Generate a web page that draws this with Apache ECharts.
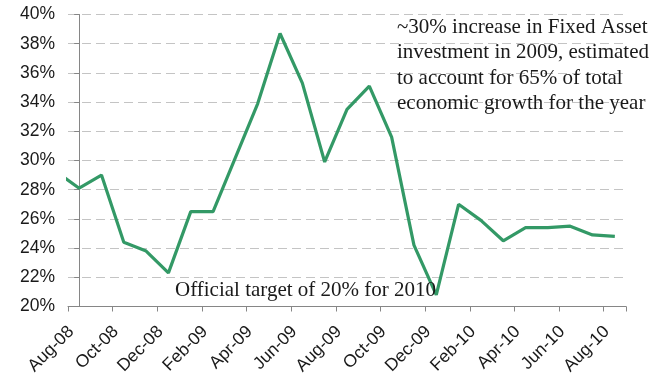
<!DOCTYPE html>
<html>
<head>
<meta charset="utf-8">
<script src="https://cdn.jsdelivr.net/npm/echarts@6/dist/echarts.min.js"></script>
<style>
html,body{margin:0;padding:0;background:#fff;}
#chart{width:658px;height:376px;}
</style>
</head>
<body>
<div id="chart"></div>
<script>
// Months shown on the category axis
var months = ['Aug-08','Sep-08','Oct-08','Nov-08','Dec-08','Jan-09','Feb-09','Mar-09','Apr-09','May-09','Jun-09','Jul-09',
  'Aug-09','Sep-09','Oct-09','Nov-09','Dec-09','Jan-10','Feb-10','Mar-10','Apr-10','May-10','Jun-10','Jul-10','Aug-10'];
// Fixed asset investment growth, % y/y
var growth = [28.1, 29.0, 24.4, 23.8, 22.3, 26.5, 26.5, 30.2, 33.9, 38.7, 35.3, 29.9,
  33.5, 35.1, 31.6, 24.2, 20.8, 27.0, 25.9, 24.5, 25.4, 25.4, 25.5, 24.9, 24.8];
// Previous month (Jul-08), only its lead-in segment is visible at the left edge
var prevMonthValue = 29.2;
var yTicks = [20, 40, 2];
var noteTop = '~30% increase in Fixed Asset\ninvestment in 2009, estimated\nto account for 65% of total\neconomic growth for the year';
var noteBottom = 'Official target of 20% for 2010';

var lineData = [[-1, prevMonthValue]];
for (var i = 0; i < growth.length; i++) lineData.push([i, growth[i]]);

var chart = echarts.init(document.getElementById('chart'), null, {renderer: 'canvas'});
var axisGray = '#868686';
chart.setOption({
  animation: false,
  backgroundColor: '#ffffff',
  grid: {left: 68, right: 32, top: 14.5, bottom: 69.5, containLabel: false, outerBoundsMode: 'none'},
  xAxis: [{
    type: 'category',
    data: months,
    boundaryGap: true,
    axisLine: {lineStyle: {color: axisGray, width: 1}},
    axisTick: {show: true, interval: 1, length: 5, lineStyle: {color: axisGray}},
    axisLabel: {interval: 1, rotate: 45, fontFamily: 'Liberation Sans, Arial', fontSize: 17.5, color: '#1a1a1a',
      margin: 14.5, padding: [0, 11.4, 0, 0]},
    splitLine: {show: false}
  }, {
    type: 'value',
    min: -0.5,
    max: months.length - 0.5,
    show: false,
    splitLine: {show: false}
  }],
  yAxis: {
    type: 'value',
    min: yTicks[0], max: yTicks[1], interval: yTicks[2],
    axisLine: {show: true, lineStyle: {color: axisGray, width: 1}},
    axisTick: {show: true, length: 5, lineStyle: {color: axisGray}},
    axisLabel: {formatter: '{value}%', fontFamily: 'Liberation Sans, Arial', fontSize: 17.5, color: '#1a1a1a', margin: 13},
    splitLine: {show: true, lineStyle: {color: '#c4c4c4', type: [9, 5], width: 1}}
  },
  series: [{
    type: 'line',
    xAxisIndex: 1,
    data: lineData,
    clip: true,
    symbol: 'none',
    lineStyle: {color: '#339966', width: 3.2},
    z: 3
  }],
  graphic: [{
    type: 'text',
    left: 397, top: 14.5,
    style: {text: noteTop, fontFamily: 'Liberation Serif, Times New Roman', fontSize: 21, lineHeight: 25.4, fill: '#1a1a1a'},
    z: 10
  }, {
    type: 'text',
    left: 175, top: 278,
    style: {text: noteBottom, fontFamily: 'Liberation Serif, Times New Roman', fontSize: 21, lineHeight: 25.4, fill: '#1a1a1a'},
    z: 10
  }]
});
</script>
</body>
</html>
